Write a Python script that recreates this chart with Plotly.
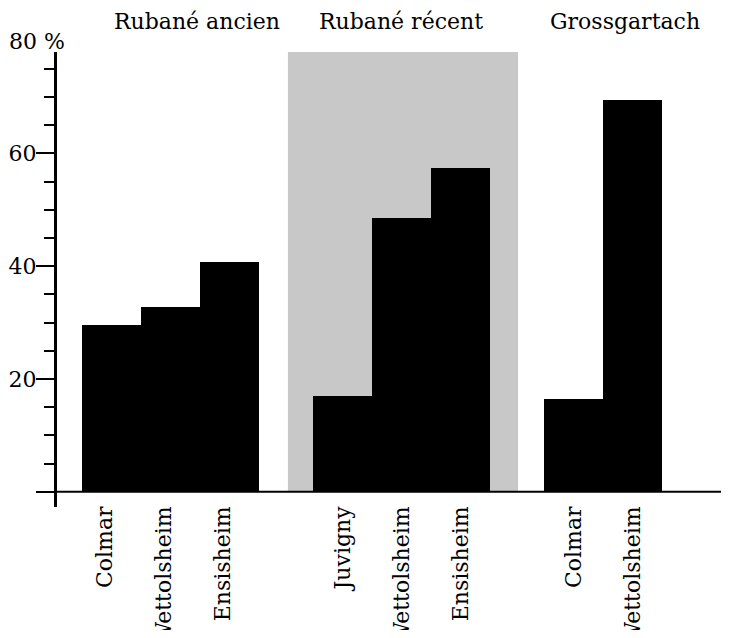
import plotly.graph_objects as go

# data (percent)
groups = ["Rubané ancien", "Rubané récent", "Grossgartach"]
sites = [
    ["Colmar", "Wettolsheim", "Ensisheim"],
    ["Juvigny", "Wettolsheim", "Ensisheim"],
    ["Colmar", "Wettolsheim"],
]
values = [
    [29.6, 32.7, 40.7],
    [17.0, 48.5, 57.4],
    [16.5, 69.4],
]
y_ticks = [20, 40, 60]
y_top_label = "80 %"

# layout: where each group starts on the x axis (one unit = one bar)
group_start = [0, 3.92, 7.83]
label_shift = [-0.12, 0, 0]
title_x = [1.45, 4.9, 8.7]
y_range = [-2.7, 78]

xs, ys, lx, labels = [], [], [], []
for g, start in enumerate(group_start):
    for i, (s, v) in enumerate(zip(sites[g], values[g])):
        xs.append(start + i)
        lx.append(start + i + label_shift[g])
        ys.append(v)
        labels.append(s)

font = "DejaVu Serif"

fig = go.Figure()
fig.add_trace(go.Bar(x=xs, y=ys, width=1.0,
                     marker=dict(color="black", line=dict(width=0)),
                     hoverinfo="x+y"))

# grey band behind the middle group
fig.add_shape(type="rect", xref="x", yref="y", x0=2.99, x1=6.89, y0=0, y1=78,
              fillcolor="#c8c8c8", line=dict(width=0), layer="below")
# baseline at y=0, in paper units so it runs to the page edge
y0_paper = (0 - y_range[0]) / (y_range[1] - y_range[0])
fig.add_shape(type="line", xref="paper", yref="paper", x0=0, x1=1.0,
              y0=y0_paper, y1=y0_paper, line=dict(color="black", width=2))

for g, t in enumerate(groups):
    fig.add_annotation(x=title_x[g], xref="x", y=1.066, yref="paper",
                       text=t, showarrow=False, yanchor="middle",
                       xanchor="center",
                       font=dict(family=font, size=22, color="black"))

fig.add_annotation(x=-0.03, xref="paper", y=1.022, yref="paper",
                   text=y_top_label, showarrow=False, yanchor="middle",
                   xanchor="center",
                   font=dict(family=font, size=22, color="black"))

# the page body adds 8px all round; the figure is sized so the page does not overflow
fig.update_layout(
    width=713, height=622,
    margin=dict(l=49, r=0, t=44, b=123),
    paper_bgcolor="white", plot_bgcolor="white",
    showlegend=False, bargap=0,
    xaxis=dict(range=[-0.924, 10.33], showgrid=False, zeroline=False,
               showline=False, ticks="", tickvals=lx, ticktext=labels,
               automargin=False, ticklabelstandoff=-6,
               tickangle=-90, tickfont=dict(family=font, size=22, color="black")),
    yaxis=dict(range=y_range, showgrid=False, zeroline=False,
               showline=True, linecolor="black", linewidth=3,
               automargin=False, ticklabelstandoff=-5,
               ticks="outside", ticklen=18, tickwidth=2, tickcolor="black",
               tickvals=[0] + y_ticks, ticktext=[""] + [str(v) for v in y_ticks],
               tickfont=dict(family=font, size=22, color="black"),
               minor=dict(dtick=5, tick0=0, ticks="outside", ticklen=10,
                          tickwidth=2, tickcolor="black")),
)

fig.write_html("out.html")
